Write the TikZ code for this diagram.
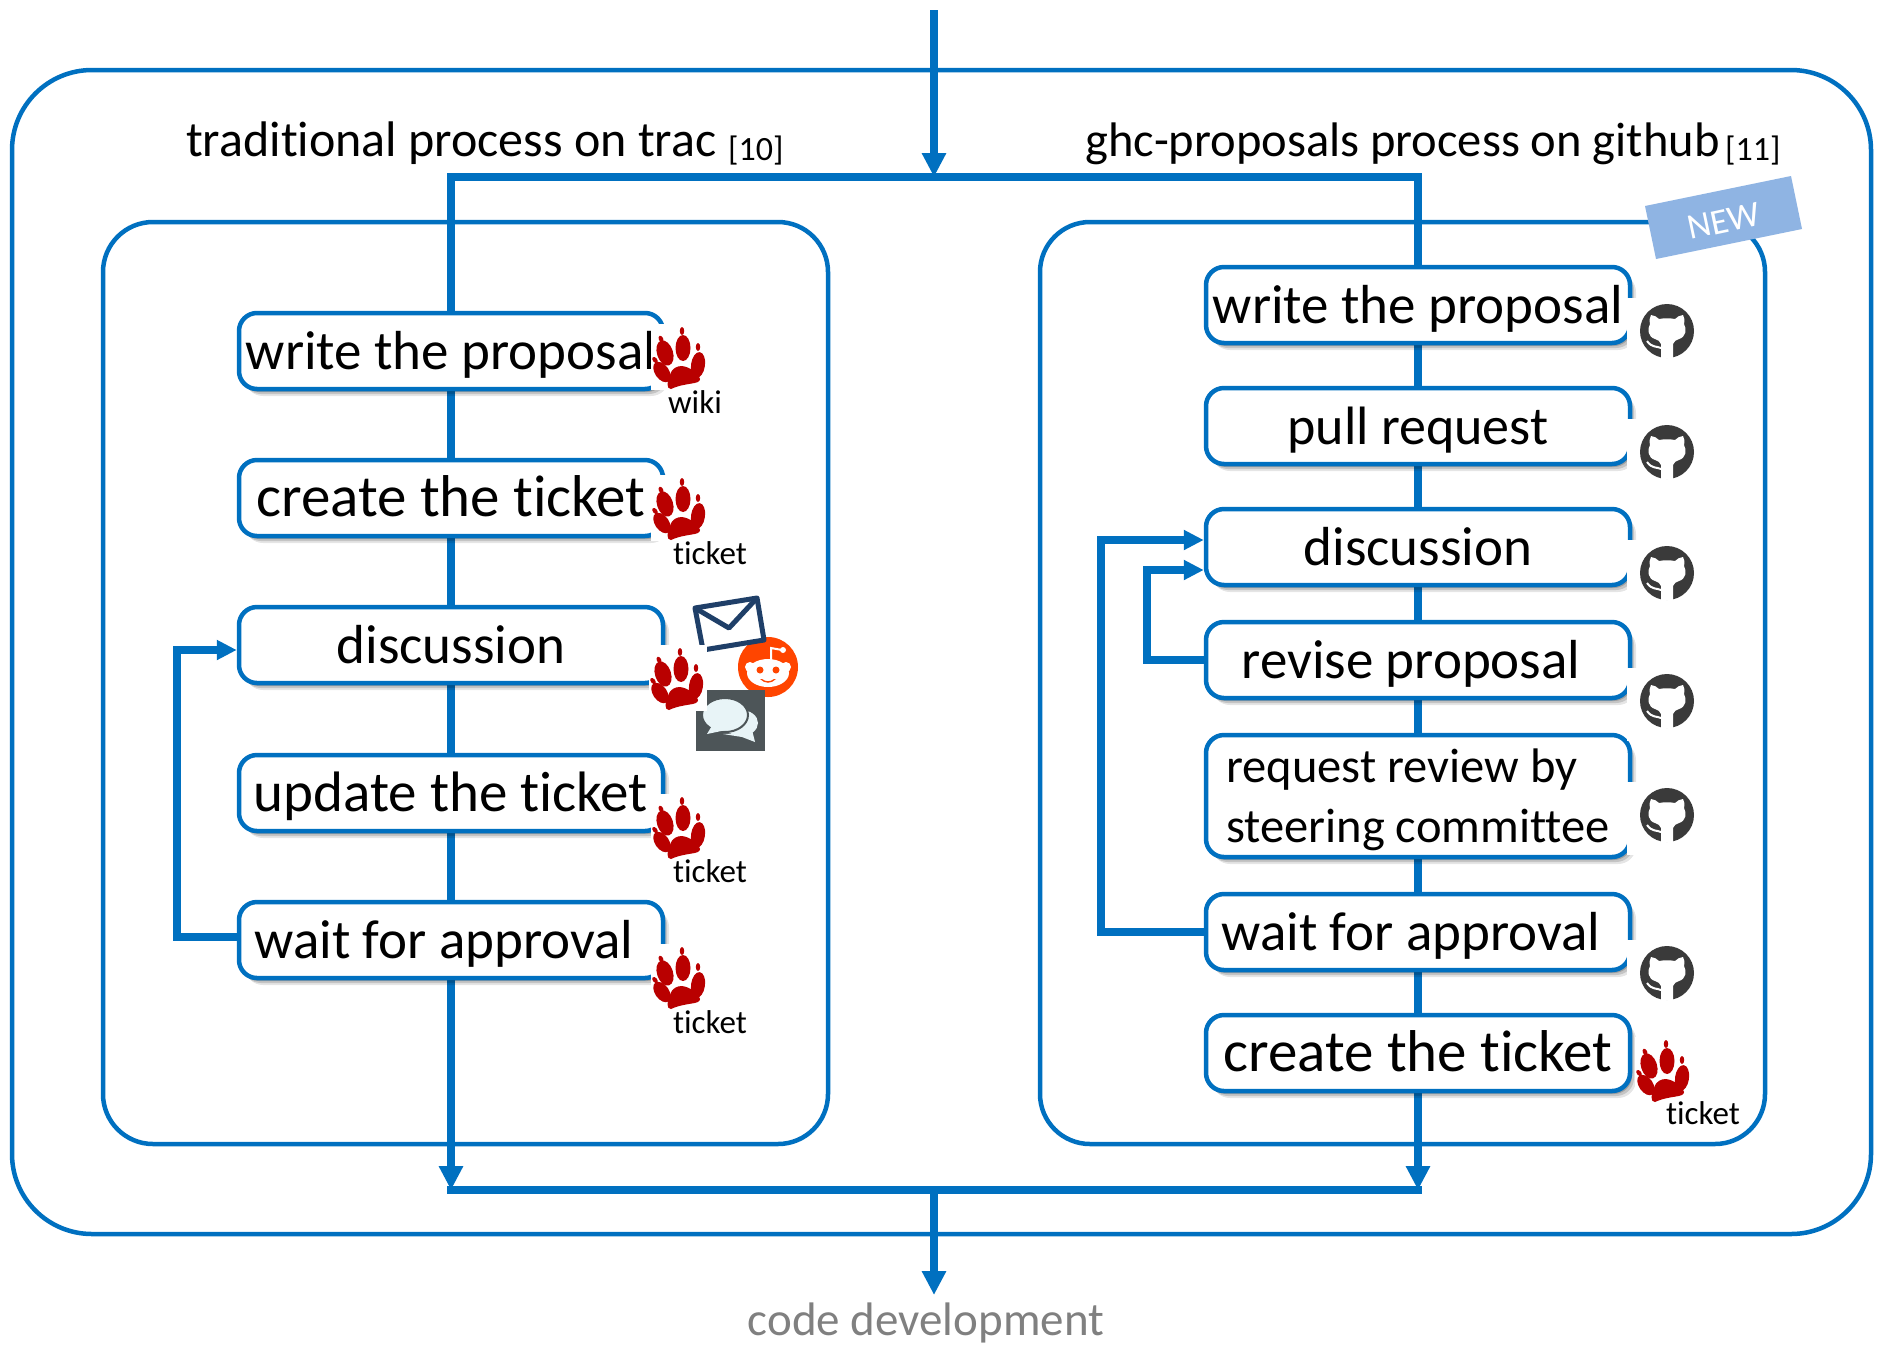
\documentclass[tikz,border=0pt]{standalone}
\usepackage{fontspec}
\setmainfont[Ligatures=NoCommon]{Carlito}
\usetikzlibrary{arrows.meta,backgrounds,calc}
\definecolor{flowblue}{HTML}{0070C0}
\definecolor{pawred}{HTML}{B90000}
\definecolor{ghdark}{HTML}{3A3A3A}
\definecolor{ribbonblue}{RGB}{143,180,227}
\definecolor{redditorange}{RGB}{255,69,0}
\definecolor{mailnavy}{RGB}{31,63,104}
\definecolor{chatslate}{RGB}{77,85,88}
\definecolor{chatpale}{RGB}{232,244,247}
\newcommand{\bigtxt}{\fontsize{55}{60}\selectfont}
\newcommand{\midtxt}{\fontsize{48.5}{60}\selectfont}
\tikzset{
  frame/.style={draw=flowblue,line width=4.5pt,fill=white,rounded corners=#1,inner sep=0pt},
  flow/.style={draw=flowblue,line width=7.5pt},
  flowtip/.style={draw=flowblue,line width=7.5pt,-{Triangle[length=24pt,width=23pt]}},
  backtip/.style={draw=flowblue,line width=7.5pt,-{Triangle[length=20pt,width=19pt]}},
  procbox/.style={draw=flowblue,line width=4.5pt,fill=white,rounded corners=18pt,inner sep=0pt,minimum width=424pt,
    preaction={fill=black,fill opacity=.10,transform canvas={xshift=6pt,yshift=-7pt}},
    preaction={fill=black,fill opacity=.14,transform canvas={xshift=4pt,yshift=-5pt}},
    preaction={fill=black,fill opacity=.18,transform canvas={xshift=2pt,yshift=-3pt}},
    font=\bigtxt},
  oneline/.style={procbox,minimum height=76pt,text height=40pt,text depth=4pt},
  smalltag/.style={font=\fontsize{33}{36}\selectfont,inner sep=0pt},
  heading/.style={anchor=base west,inner sep=0pt},
  refmark/.style={font=\fontsize{34}{38}\selectfont,anchor=base west,inner sep=0pt},
  pics/paw/.style={code={
    \fill[white] (-29pt,-33pt) rectangle (29pt,33pt);
    \begin{scope}[yshift=-4pt]
    \fill[pawred] (3pt,13pt) ellipse [x radius=7.5pt,y radius=13pt];
    \fill[pawred,rotate around={18:(-15pt,8pt)}] (-15pt,8pt) ellipse [x radius=8pt,y radius=13pt];
    \fill[pawred,rotate around={-8:(18pt,-4pt)}] (18pt,-4pt) ellipse [x radius=7pt,y radius=13pt];
    \fill[pawred,rotate around={35:(-18pt,-11pt)}] (-18pt,-11pt) ellipse [x radius=7pt,y radius=11.5pt];
    \fill[pawred] (2pt,30pt) ellipse [x radius=2.2pt,y radius=4pt];
    \fill[pawred,rotate around={25:(-19pt,22pt)}] (-19pt,22pt) ellipse [x radius=2.2pt,y radius=3.5pt];
    \fill[pawred] (18pt,14pt) ellipse [x radius=2.2pt,y radius=4pt];
    \fill[pawred,rotate around={40:(-25pt,1pt)}] (-25pt,1pt) ellipse [x radius=2.2pt,y radius=3.5pt];
    \fill[pawred] (-9pt,-28pt) .. controls (-14pt,-28pt) and (-13pt,-20pt) .. (-10pt,-14pt)
      .. controls (-8pt,-7pt) and (-3pt,-5pt) .. (2pt,-5pt)
      .. controls (10pt,-6pt) and (18pt,-12pt) .. (20pt,-18pt)
      .. controls (20pt,-24pt) and (6pt,-21pt) .. (-9pt,-28pt) -- cycle;
    \end{scope}
  }},
  pics/ghcat/.style={code={
    \fill[white] (-40pt,-40pt) rectangle (40pt,33pt);
    \fill[ghdark] (0,0) circle (27pt);
    \fill[white] (-6pt,-27pt) -- (6pt,-27pt) -- (6pt,-13pt) .. controls (7pt,-10pt) and (9pt,-9pt) .. (12pt,-8pt)
      .. controls (19pt,-6pt) and (20pt,2pt) .. (17pt,7pt) .. controls (18pt,11pt) and (17pt,14pt) .. (16pt,16pt)
      .. controls (13pt,16pt) and (10pt,14pt) .. (8pt,12pt) .. controls (3pt,13pt) and (-3pt,13pt) .. (-8pt,12pt)
      .. controls (-10pt,14pt) and (-13pt,16pt) .. (-16pt,16pt) .. controls (-17pt,14pt) and (-18pt,11pt) .. (-17pt,7pt)
      .. controls (-20pt,2pt) and (-19pt,-6pt) .. (-12pt,-8pt) .. controls (-9pt,-9pt) and (-7pt,-10pt) .. (-6pt,-13pt) -- cycle;
    \draw[white,line width=2pt] (-20pt,-10pt) .. controls (-15pt,-17pt) and (-10pt,-15pt) .. (-6pt,-17pt);
  }},
}
\begin{document}
\begin{tikzpicture}[x=1pt,y=-1pt]
\useasboundingbox (0,0) rectangle (1879,1345);

% junction points
\coordinate (source) at (934,10);
\coordinate (split) at (934,177);
\coordinate (jl) at (451,177);
\coordinate (jr) at (1418,177);
\coordinate (ml) at (451,1190);
\coordinate (mr) at (1418,1190);
\coordinate (merge) at (934,1190);
\coordinate (sink) at (934,1295);
\coordinate (lback) at (177,800);
\coordinate (rback) at (1101,800);
\coordinate (rback2) at (1147,600);

% process boxes
\node[oneline] (L1) at (451,351) {write the proposal};
\node[oneline,font=\fontsize{59}{60}\selectfont] (L2) at (451,498) {create the ticket};
\node[oneline] (L3) at (451,645) {discussion};
\node[oneline,font=\fontsize{57}{60}\selectfont] (L4) at (451,793) {update the ticket};
\node[oneline] (L5) at (451,940) {wait for approval\kern14pt};

\node[oneline] (R1) at (1418,305) {write the proposal};
\node[oneline,font=\fontsize{54}{60}\selectfont] (R2) at (1418,426) {pull request};
\node[oneline] (R3) at (1418,547) {discussion};
\node[oneline] (R4) at (1418,660) {revise proposal\kern14pt};
\node[procbox,minimum height=122pt,font=\midtxt] (R5) at (1418,796) {\raisebox{-11pt}[0pt][0pt]{\begin{tabular}{@{}l@{}}request review by\\steering committee\end{tabular}}};
\node[oneline] (R6) at (1418,932) {wait for approval\kern14pt};
\node[oneline,font=\fontsize{59}{60}\selectfont] (R7) at (1418,1053) {create the ticket};

\begin{scope}[on background layer]
  \fill[white] (0,0) rectangle (1879,1345);
  \node[frame=80pt,minimum width=1859pt,minimum height=1164pt] (outer) at (941.5,652) {};
  \node[frame=50pt,minimum width=725pt,minimum height=922pt] (leftframe) at (465.5,683) {};
  \node[frame=50pt,minimum width=725pt,minimum height=922pt] (rightframe) at (1402.5,683) {};
  \draw[flowtip] (source) -- (split);
  \draw[flow,line cap=rect] (jl) -- (jr);
  \draw[flow] (jl) -- (L1.north);
  \draw[flow] (L1) -- (L2);
  \draw[flow] (L2) -- (L3);
  \draw[flow] (L3) -- (L4);
  \draw[flow] (L4) -- (L5);
  \draw[flowtip] (L5) -- (ml);
  \draw[flow] (jr) -- (R1);
  \draw[flow] (R1) -- (R2);
  \draw[flow] (R2) -- (R3);
  \draw[flow] (R3) -- (R4);
  \draw[flow] (R4) -- (R5);
  \draw[flow] (R5) -- (R6);
  \draw[flow] (R6) -- (R7);
  \draw[flowtip] (R7) -- (mr);
  \draw[flow,line cap=rect] (ml) -- (mr);
  \draw[flowtip] (merge) -- (sink);
\end{scope}

% feedback arrows
\draw[backtip] ([yshift=3pt]L5.west) -| (lback) |- ([yshift=-5pt]L3.west);
\draw[backtip] (R6.west) -| (rback) |- ([yshift=7pt]R3.west);
\draw[backtip] (R4.west) -| (rback2) |- ([yshift=-23pt]R3.west);

% headings
\node[heading,font=\fontsize{50}{52}\selectfont] (htrad) at (186,156) {traditional process on trac};
\node[refmark] (rtrad) at (728,160) {[10]};
\node[heading,font=\fontsize{48.5}{52}\selectfont] (hghc) at (1085,156) {ghc-proposals process on github};
\node[refmark] (rghc) at (1725,160) {[11]};
\node[font=\fontsize{47}{52}\selectfont,text=black!50,inner sep=0pt] (codedev) at (926,1323) {code development};

% NEW ribbon
\fill[ribbonblue] (1645,206) -- (1791,176) -- (1802,229) -- (1656,259) -- cycle;
\node[rotate=12,text=white,font=\fontsize{36}{40}\selectfont,inner sep=0pt] (newtag) at (1724,221) {NEW};

% reddit, envelope, chat
\fill[redditorange] (768,667) circle (30pt);
\fill[white] (768,673) ellipse [x radius=21pt,y radius=14pt];
\fill[white] (750,667) circle (5pt) (786,667) circle (5pt);
\fill[redditorange] (760,670) circle (3.5pt) (776,670) circle (3.5pt);
\draw[white,line width=2pt] (771,660) -- (771,648) -- (782,650);
\fill[white] (783,650) circle (3pt);
\fill[redditorange] (760,679) .. controls (765,684) and (771,684) .. (776,679) -- (774,679) .. controls (770,682) and (766,682) .. (762,679) -- cycle;
\draw[mailnavy,line width=5pt,line join=round,fill=white] (695,608) -- (757,598) -- (764,640) -- (703,650) -- cycle;
\draw[mailnavy,line width=5pt,line join=round] (695,608) -- (729,628) -- (757,598);
\fill[chatslate] (696,690) rectangle (765,751);
\fill[chatpale] (741,723) ellipse [x radius=17pt,y radius=13pt];
\fill[chatpale] (723,734) -- (745,733) -- (752,730) -- (755,742) -- (742,737) -- cycle;
\filldraw[fill=chatpale,draw=chatslate,line width=2pt] (725,715) ellipse [x radius=23pt,y radius=17pt];
\fill[chatpale] (707,734) -- (713,724) -- (726,730) -- cycle;

% trac paws and labels
\pic (pawa) at (680,357) {paw};
\pic (pawb) at (680,508) {paw};
\pic (pawc) at (678,678) {paw};
\pic (pawd) at (680,827) {paw};
\pic (pawe) at (680,977) {paw};
\pic (pawf) at (1664,1070) {paw};
\node[smalltag] (tw) at (695,402) {wiki};
\node[smalltag] (ta) at (710,553) {ticket};
\node[smalltag] (tb) at (710,871) {ticket};
\node[smalltag] (tc) at (710,1022) {ticket};
\node[smalltag] (td) at (1703,1113) {ticket};

% github marks
\pic (gha) at (1667,331) {ghcat};
\pic (ghb) at (1667,452) {ghcat};
\pic (ghc) at (1667,573) {ghcat};
\pic (ghd) at (1667,701) {ghcat};
\pic (ghe) at (1667,815) {ghcat};
\pic (ghf) at (1667,973) {ghcat};
\end{tikzpicture}
\end{document}
